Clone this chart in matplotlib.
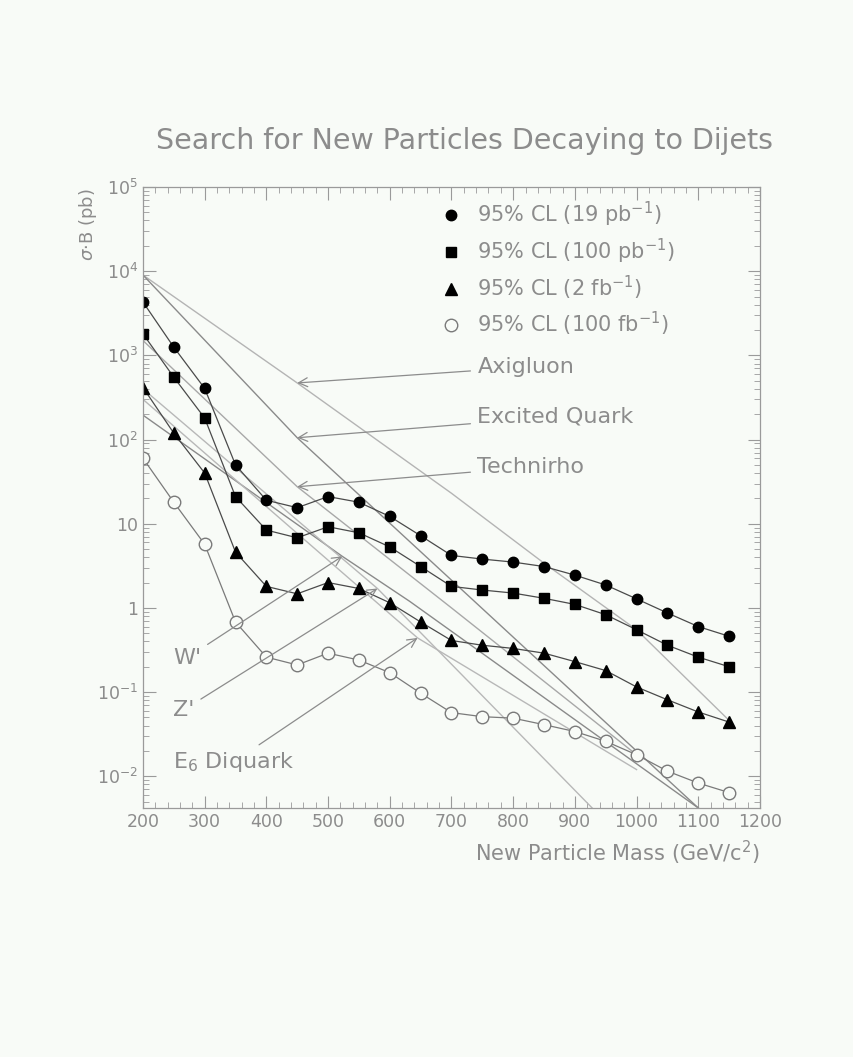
import numpy as np
import matplotlib.pyplot as plt
from matplotlib.ticker import FixedLocator, MultipleLocator, LogLocator, NullFormatter

# masses of the limit points (GeV/c^2)
mass = [200, 250, 300, 350, 400, 450, 500, 550, 600, 650,
        700, 750, 800, 850, 900, 950, 1000, 1050, 1100, 1150]

# 95% CL limits on sigma*B (pb)
cl_19pb = [4300, 1250, 405, 50, 19, 15.5, 21, 18, 12.2, 7.2,
           4.2, 3.8, 3.5, 3.1, 2.45, 1.87, 1.28, 0.87, 0.60, 0.46]
cl_100pb = [1800, 550, 180, 21, 8.4, 6.8, 9.2, 7.8, 5.3, 3.1,
            1.8, 1.63, 1.5, 1.3, 1.1, 0.83, 0.55, 0.36, 0.26, 0.20]
cl_2fb = [415, 119, 40, 4.6, 1.8, 1.47, 2.0, 1.7, 1.15, 0.68,
          0.41, 0.36, 0.33, 0.29, 0.23, 0.18, 0.115, 0.081, 0.058, 0.044]
cl_100fb = [60, 18, 5.7, 0.68, 0.26, 0.21, 0.29, 0.24, 0.17, 0.097,
            0.057, 0.051, 0.049, 0.041, 0.034, 0.026, 0.018, 0.0115, 0.0083, 0.0064]

axi_m = [200, 450, 700, 850, 1000, 1150]
axi_v = [9000, 470, 23, 3.4, 0.55, 0.046]
exq_m = [200, 450, 1100]
exq_v = [9000, 105, 0.0042]
trho_m = [200, 450, 700, 1000]
trho_v = [1500, 27.5, 1.0, 0.018]
wp_m = [200, 523, 632, 1100]
wp_v = [195, 4.1, 1.2, 0.0042]
zp_m = [200, 580, 928]
zp_v = [400, 1.7, 0.0042]
e6_m = [200, 645, 1000]
e6_v = [300, 0.44, 0.012]

legend_labels = ['95% CL (19 pb$^{-1}$)', '95% CL (100 pb$^{-1}$)',
                 '95% CL (2 fb$^{-1}$)', '95% CL (100 fb$^{-1}$)']

txt = '#8c8c8c'
bg = '#f8fbf7'

fig = plt.figure(figsize=(8.54, 10.57), dpi=100, facecolor=bg)
ax = fig.add_axes([0.1674, 0.2356, 0.7225, 0.5875], facecolor=bg)

# theory curves
ax.plot(axi_m, axi_v, color='#b4b4b4', lw=1.0)
ax.plot(exq_m, exq_v, color='#8a8a8a', lw=1.0)
ax.plot(trho_m, trho_v, color='#a8a8a8', lw=1.0)
ax.plot(wp_m, wp_v, color='#8a8a8a', lw=1.0)
ax.plot(zp_m, zp_v, color='#b8b8b8', lw=1.0)
ax.plot(e6_m, e6_v, color='#b8b8b8', lw=1.0)

# limits
ax.plot(mass, cl_19pb, '-o', color='#4a4a4a', mfc='black', mec='black', ms=7.5, lw=0.9, label=legend_labels[0])
ax.plot(mass, cl_100pb, '-s', color='#4a4a4a', mfc='black', mec='black', ms=7.2, lw=0.9, label=legend_labels[1])
ax.plot(mass, cl_2fb, '-^', color='#4a4a4a', mfc='black', mec='black', ms=8, lw=0.9, label=legend_labels[2])
ax.plot(mass, cl_100fb, '-o', color='#7a7a7a', mfc=bg, mec='#7a7a7a', ms=9, mew=1.0, lw=0.9, label=legend_labels[3])

ax.set_yscale('log')
ax.set_xlim(200, 1200)
ax.set_ylim(4.2e-3, 1e5)

ax.xaxis.set_major_locator(MultipleLocator(100))
ax.xaxis.set_minor_locator(MultipleLocator(20))
ax.yaxis.set_major_locator(FixedLocator([1e-2, 1e-1, 1, 10, 1e2, 1e3, 1e4, 1e5]))
ax.yaxis.set_minor_locator(LogLocator(base=10, subs=np.arange(2, 10)))
ax.yaxis.set_minor_formatter(NullFormatter())
ax.set_yticklabels(['10$^{-2}$', '10$^{-1}$', '1', '10', '10$^{2}$', '10$^{3}$', '10$^{4}$', '10$^{5}$'])

ax.tick_params(which='both', direction='in', top=True, right=True, colors='#9a9a9a', labelcolor=txt, labelsize=12.5)
ax.tick_params(which='major', length=9, width=0.8)
ax.tick_params(which='minor', length=4.5, width=0.6)
for s in ax.spines.values():
    s.set_color('#9a9a9a')
    s.set_linewidth(0.9)

ax.set_xlabel('New Particle Mass (GeV/c$^{2}$)', color=txt, fontsize=15, loc='right', labelpad=6)
ax.set_ylabel('$\\sigma$$\\cdot$B (pb)', color=txt, fontsize=13, loc='top')
ax.yaxis.set_label_coords(-0.072, 0.997)
fig.text(464 / 854, 1 - 141 / 1057, 'Search for New Particles Decaying to Dijets',
         color=txt, fontsize=20.5, ha='center', va='center')

leg = ax.legend(loc='upper left', bbox_to_anchor=(0.45, 1.01), frameon=False, fontsize=15,
                handlelength=1.1, handletextpad=0.7, labelspacing=0.38, numpoints=1)
for t in leg.get_texts():
    t.set_color(txt)
for h in leg.legend_handles:
    h.set_linestyle('None')

# arrows to the theory curves
arrow = dict(arrowstyle='->', color='#8c8c8c', lw=0.9, shrinkA=3, shrinkB=0)
lab = dict(color=txt, fontsize=16, ha='left', va='center', arrowprops=arrow)
ax.annotate('Axigluon', xy=(450, 470), xytext=(742, 725), **lab)
ax.annotate('Excited Quark', xy=(450, 105), xytext=(742, 186), **lab)
ax.annotate('Technirho', xy=(450, 27.5), xytext=(742, 47), **lab)
ax.annotate("W'", xy=(523, 4.1), xytext=(249, 0.256), **lab)
ax.annotate("Z'", xy=(580, 1.7), xytext=(249, 0.0617), **lab)
ax.annotate('E$_6$ Diquark', xy=(645, 0.44), xytext=(249, 0.0148), **lab)

fig.savefig('out.png', dpi=100, facecolor=bg)
